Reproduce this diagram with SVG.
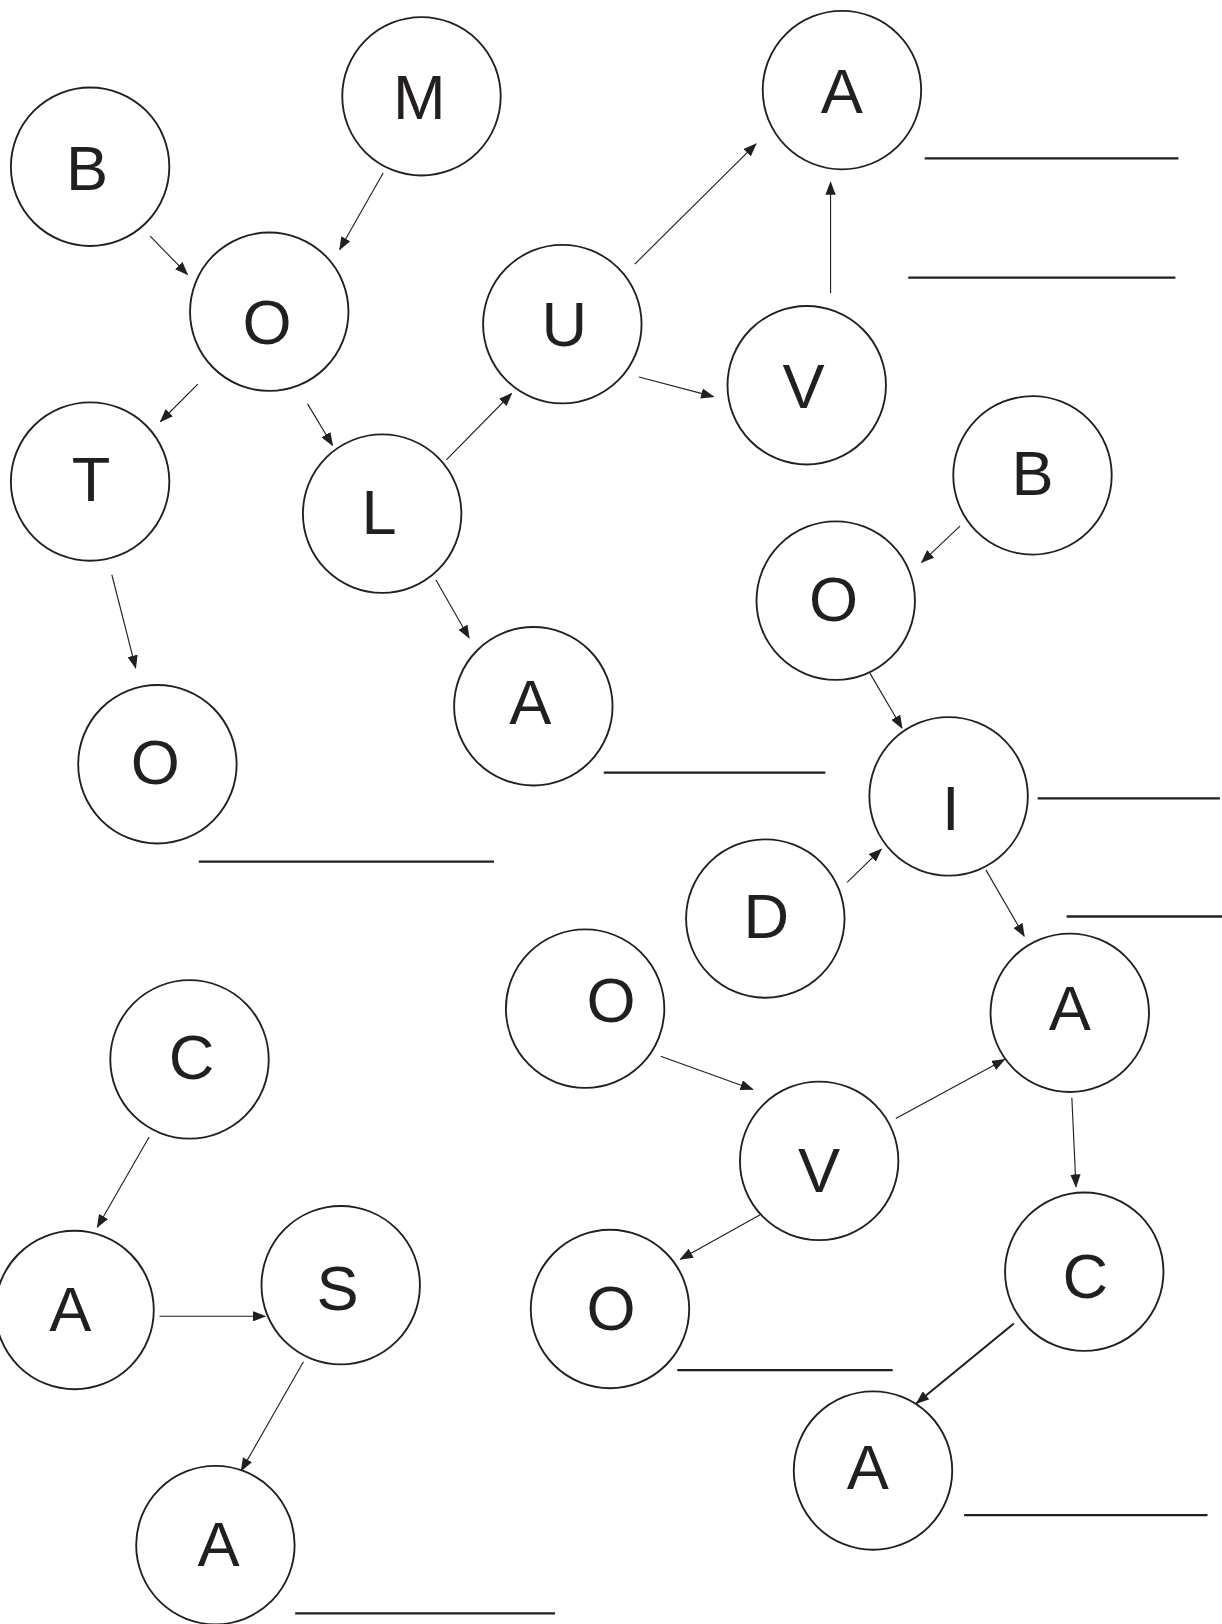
<svg xmlns="http://www.w3.org/2000/svg" width="1222" height="1624" viewBox="0 0 1222 1624">
<style>
.n circle{fill:#fff;stroke:#231f20;stroke-width:1.8}
.n text{font-family:"Liberation Sans",Arial,sans-serif;font-size:61px;fill:#231f20;text-anchor:middle}
.c line{stroke:#231f20;stroke-width:1.1;marker-end:url(#ah)}
.c line.thick{stroke-width:2}
.b line{stroke:#231f20;stroke-width:2.2}
</style>
<defs>
<marker id="ah" markerUnits="userSpaceOnUse" markerWidth="14" markerHeight="10" refX="12" refY="5" orient="auto">
<path d="M0,0 L13,5 L0,10 Z" fill="#231f20"/>
</marker>
</defs>
<rect width="1222" height="1624" fill="#fff"/>
<g transform="scale(1.03559)">
<g class="c" id="connectors">
<line x1="145" y1="228" x2="181" y2="265"/>
<line x1="370" y1="167" x2="328" y2="241"/>
<line x1="191" y1="371" x2="155" y2="407"/>
<line x1="297" y1="390" x2="321" y2="430"/>
<line x1="108" y1="555" x2="131" y2="645"/>
<line x1="431" y1="444" x2="494" y2="380"/>
<line x1="421" y1="560" x2="453" y2="616"/>
<line x1="613" y1="255" x2="730" y2="139"/>
<line x1="617" y1="364" x2="689" y2="383"/>
<line x1="802" y1="283" x2="802" y2="176"/>
<line x1="927" y1="508" x2="890" y2="543"/>
<line x1="840" y1="650" x2="871" y2="703"/>
<line x1="818" y1="852" x2="851" y2="820"/>
<line x1="952" y1="840" x2="989" y2="904"/>
<line x1="638" y1="1020" x2="727" y2="1052"/>
<line x1="865" y1="1080" x2="970" y2="1023"/>
<line x1="1035" y1="1060" x2="1039" y2="1146"/>
<line x1="734" y1="1173" x2="657" y2="1216"/>
<line class="thick" x1="979" y1="1278" x2="885" y2="1355"/>
<line x1="144" y1="1098" x2="94" y2="1185"/>
<line x1="154" y1="1271" x2="256" y2="1271"/>
<line x1="293" y1="1315" x2="233" y2="1420"/>
</g>
<g class="b" id="blanks">
<line x1="893" y1="153" x2="1138" y2="153"/>
<line x1="877" y1="268" x2="1135" y2="268"/>
<line x1="583" y1="746" x2="797" y2="746"/>
<line x1="192" y1="832" x2="477" y2="832"/>
<line x1="1002" y1="771" x2="1178" y2="771"/>
<line x1="1030" y1="885" x2="1180" y2="885"/>
<line x1="654" y1="1323" x2="862" y2="1323"/>
<line x1="931" y1="1463" x2="1166" y2="1463"/>
<line x1="285" y1="1558" x2="536" y2="1558"/>
</g>
<g class="n" id="n1"><circle cx="87" cy="161" r="76.5"/><text x="84" y="183">B</text></g>
<g class="n" id="n2"><circle cx="407" cy="93" r="76.5"/><text x="405" y="115">M</text></g>
<g class="n" id="n3"><circle cx="260" cy="301" r="76.5"/><text x="258" y="332">O</text></g>
<g class="n" id="n4"><circle cx="87" cy="465" r="76.5"/><text x="88" y="484">T</text></g>
<g class="n" id="n5"><circle cx="369" cy="496" r="76.5"/><text x="366" y="516">L</text></g>
<g class="n" id="n6"><circle cx="152" cy="738" r="76.5"/><text x="150" y="757">O</text></g>
<g class="n" id="n7"><circle cx="515" cy="682" r="76.5"/><text x="512" y="699">A</text></g>
<g class="n" id="n8"><circle cx="543" cy="313" r="76.5"/><text x="545" y="334">U</text></g>
<g class="n" id="n9"><circle cx="779" cy="372" r="76.5"/><text x="776" y="394">V</text></g>
<g class="n" id="n10"><circle cx="813" cy="87" r="76.5"/><text x="813" y="109">A</text></g>
<g class="n" id="n11"><circle cx="997" cy="459" r="76.5"/><text x="997" y="478">B</text></g>
<g class="n" id="n12"><circle cx="807" cy="580" r="76.5"/><text x="805" y="600">O</text></g>
<g class="n" id="n13"><circle cx="916" cy="769" r="76.5"/><text x="918" y="801">I</text></g>
<g class="n" id="n14"><circle cx="739" cy="887" r="76.5"/><text x="740" y="906">D</text></g>
<g class="n" id="n15"><circle cx="1033" cy="978" r="76.5"/><text x="1033" y="995">A</text></g>
<g class="n" id="n16"><circle cx="565" cy="974" r="76.5"/><text x="590" y="987">O</text></g>
<g class="n" id="n17"><circle cx="791" cy="1121" r="76.5"/><text x="791" y="1151">V</text></g>
<g class="n" id="n18"><circle cx="589" cy="1264" r="76.5"/><text x="590" y="1284">O</text></g>
<g class="n" id="n19"><circle cx="1047" cy="1228" r="76.5"/><text x="1048" y="1253">C</text></g>
<g class="n" id="n20"><circle cx="843" cy="1420" r="76.5"/><text x="838" y="1438">A</text></g>
<g class="n" id="n21"><circle cx="183" cy="1023" r="76.5"/><text x="185" y="1042">C</text></g>
<g class="n" id="n22"><circle cx="72" cy="1265" r="76.5"/><text x="68" y="1285">A</text></g>
<g class="n" id="n23"><circle cx="329" cy="1241" r="76.5"/><text x="326" y="1265">S</text></g>
<g class="n" id="n24"><circle cx="208" cy="1492" r="76.5"/><text x="211" y="1512">A</text></g>
</g>
</svg>
